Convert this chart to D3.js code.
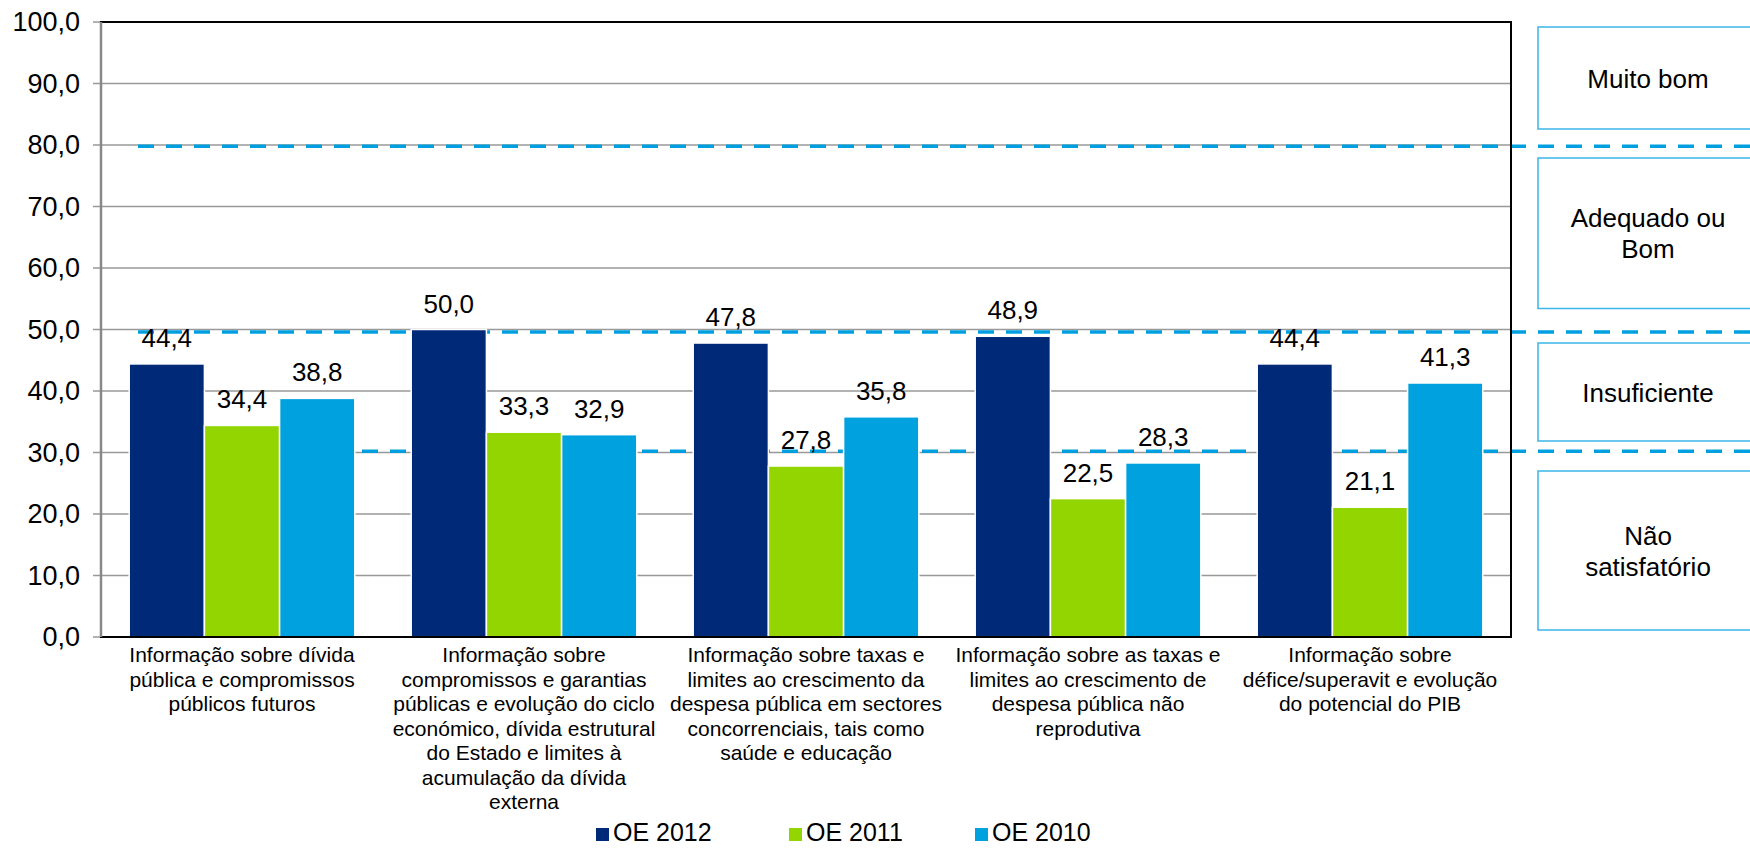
<!DOCTYPE html>
<html>
<head>
<meta charset="utf-8">
<script src="https://cdn.jsdelivr.net/npm/d3@7"></script>
<style>
  body { margin: 0; background: #fff; }
  svg { display: block; font-family: "Liberation Sans", Arial, sans-serif; }
</style>
</head>
<body>
<svg id="chart"></svg>
<script>
// data
const categories = [
  ["Informação sobre dívida", "pública e compromissos", "públicos futuros"],
  ["Informação sobre", "compromissos e garantias", "públicas e evolução do ciclo", "económico, dívida estrutural", "do Estado e limites à", "acumulação da dívida", "externa"],
  ["Informação sobre taxas e", "limites ao crescimento da", "despesa pública em sectores", "concorrenciais, tais como", "saúde e educação"],
  ["Informação sobre as taxas e", "limites ao crescimento de", "despesa pública não", "reprodutiva"],
  ["Informação sobre", "défice/superavit e evolução", "do potencial do PIB"]
];
const seriesNames = ["OE 2012", "OE 2011", "OE 2010"];
const oe2012 = [44.4, 50.0, 47.8, 48.9, 44.4];
const oe2011 = [34.4, 33.3, 27.8, 22.5, 21.1];
const oe2010 = [38.8, 32.9, 35.8, 28.3, 41.3];
const yTicks = [0, 10, 20, 30, 40, 50, 60, 70, 80, 90, 100];
const thresholds = [79.8, 49.6, 30.2];
const ratingLabels = [["Muito bom"], ["Adequado ou", "Bom"], ["Insuficiente"], ["Não", "satisfatório"]];
const ratingBands = [[100, 80], [80, 50], [50, 30], [30, 0]];

const colors = ["#002A78", "#93D500", "#00A1DF"];
const dashColor = "#00A0E0";

const width = 1750, height = 848;
const margin = { top: 22, left: 101, right: 239, bottom: 211 };
const plotRight = width - margin.right;
const plotBottom = height - margin.bottom;

const svg = d3.select("#chart").attr("width", width).attr("height", height);

const y = d3.scaleLinear().domain([0, 100]).range([plotBottom, margin.top]);
const x0 = d3.scaleBand().domain(d3.range(categories.length)).range([margin.left, plotRight]).padding(0);
const groupW = x0.bandwidth() * 0.8;
const x1 = d3.scaleBand().domain(seriesNames).range([0, groupW]).padding(0);
const fmt = v => d3.format(".1f")(v).replace(".", ",");

const rows = categories.map((c, i) => ({
  i, values: [oe2012[i], oe2011[i], oe2010[i]].map((v, k) => ({ name: seriesNames[k], v, k }))
}));

// gridlines
svg.append("g")
  .selectAll("line")
  .data(yTicks)
  .join("line")
  .attr("x1", margin.left - 8).attr("x2", plotRight)
  .attr("y1", d => y(d)).attr("y2", d => y(d))
  .attr("stroke", "#999").attr("stroke-width", 1.5);

// dashed threshold lines (behind bars)
svg.append("g")
  .selectAll("line")
  .data(thresholds)
  .join("line")
  .attr("x1", 138).attr("x2", width)
  .attr("y1", d => y(d)).attr("y2", d => y(d))
  .attr("stroke", dashColor).attr("stroke-width", 3.5)
  .attr("stroke-dasharray", "16,12");

// bars
const groups = svg.append("g")
  .selectAll("g")
  .data(rows)
  .join("g")
  .attr("transform", d => `translate(${x0(d.i) + (x0.bandwidth() - groupW) / 2},0)`);

groups.selectAll("rect")
  .data(d => d.values)
  .join("rect")
  .attr("x", d => x1(d.name))
  .attr("y", d => y(d.v))
  .attr("width", x1.bandwidth())
  .attr("height", d => y(0) - y(d.v))
  .attr("fill", d => colors[d.k])
  .attr("stroke", "#fff").attr("stroke-width", 1.5);

groups.selectAll("text")
  .data(d => d.values)
  .join("text")
  .attr("x", d => x1(d.name) + x1.bandwidth() / 2)
  .attr("y", d => y(d.v) - 17)
  .attr("text-anchor", "middle")
  .attr("font-size", 26)
  .attr("fill", "#000")
  .text(d => fmt(d.v));

// plot border (top, right, bottom black) and left axis grey
svg.append("rect")
  .attr("x", margin.left).attr("y", margin.top)
  .attr("width", plotRight - margin.left).attr("height", plotBottom - margin.top)
  .attr("fill", "none").attr("stroke", "#000").attr("stroke-width", 2);
svg.append("line")
  .attr("x1", margin.left).attr("x2", margin.left)
  .attr("y1", margin.top).attr("y2", plotBottom)
  .attr("stroke", "#888").attr("stroke-width", 2.5);

// y axis labels
const yAxis = d3.axisLeft(y).tickValues(yTicks).tickFormat(fmt).tickSize(0).tickPadding(21);
const yg = svg.append("g").attr("transform", `translate(${margin.left},0)`).call(yAxis);
yg.select(".domain").remove();
yg.selectAll("text").attr("font-size", 27).attr("fill", "#000").attr("font-family", null);

// category labels
const catG = svg.append("g")
  .selectAll("text")
  .data(categories)
  .join("text")
  .attr("text-anchor", "middle")
  .attr("font-size", 21)
  .attr("fill", "#000")
  .attr("transform", (d, i) => `translate(${x0(i) + x0.bandwidth() / 2},${plotBottom + 25})`);
catG.selectAll("tspan")
  .data(d => d)
  .join("tspan")
  .attr("x", 0)
  .attr("y", (d, i) => i * 24.5)
  .text(d => d);

// rating boxes on the right
const boxX = 1538, boxW = 230;
const boxInset = [[5, 16], [13, 21], [13.5, 11.5], [18.5, 7]];
const boxes = svg.append("g")
  .selectAll("g")
  .data(ratingLabels)
  .join("g");
boxes.append("rect")
  .attr("x", boxX)
  .attr("y", (d, i) => y(ratingBands[i][0]) + boxInset[i][0])
  .attr("width", boxW)
  .attr("height", (d, i) => (y(ratingBands[i][1]) - boxInset[i][1]) - (y(ratingBands[i][0]) + boxInset[i][0]))
  .attr("fill", "#fff")
  .attr("stroke", "#3DB5EA").attr("stroke-width", 1.5);
boxes.append("text")
  .attr("text-anchor", "middle")
  .attr("font-size", 26)
  .attr("fill", "#000")
  .each(function (d, i) {
    const top = y(ratingBands[i][0]) + boxInset[i][0];
    const bot = y(ratingBands[i][1]) - boxInset[i][1];
    const cy = (top + bot) / 2;
    const lh = 31;
    const first = cy + 9.5 - (d.length - 1) * lh / 2;
    d3.select(this).selectAll("tspan")
      .data(d)
      .join("tspan")
      .attr("x", 1648)
      .attr("y", (t, j) => first + j * lh)
      .text(t => t);
  });

// legend
const legendX = [596, 789, 975];
const legend = svg.append("g")
  .selectAll("g")
  .data(seriesNames)
  .join("g")
  .attr("transform", (d, i) => `translate(${legendX[i]},0)`);
legend.append("rect")
  .attr("x", 0).attr("y", 828)
  .attr("width", 13).attr("height", 13)
  .attr("fill", (d, i) => colors[i]);
legend.append("text")
  .attr("x", 17).attr("y", 841)
  .attr("font-size", 25)
  .attr("fill", "#000")
  .text(d => d);
</script>
</body>
</html>
